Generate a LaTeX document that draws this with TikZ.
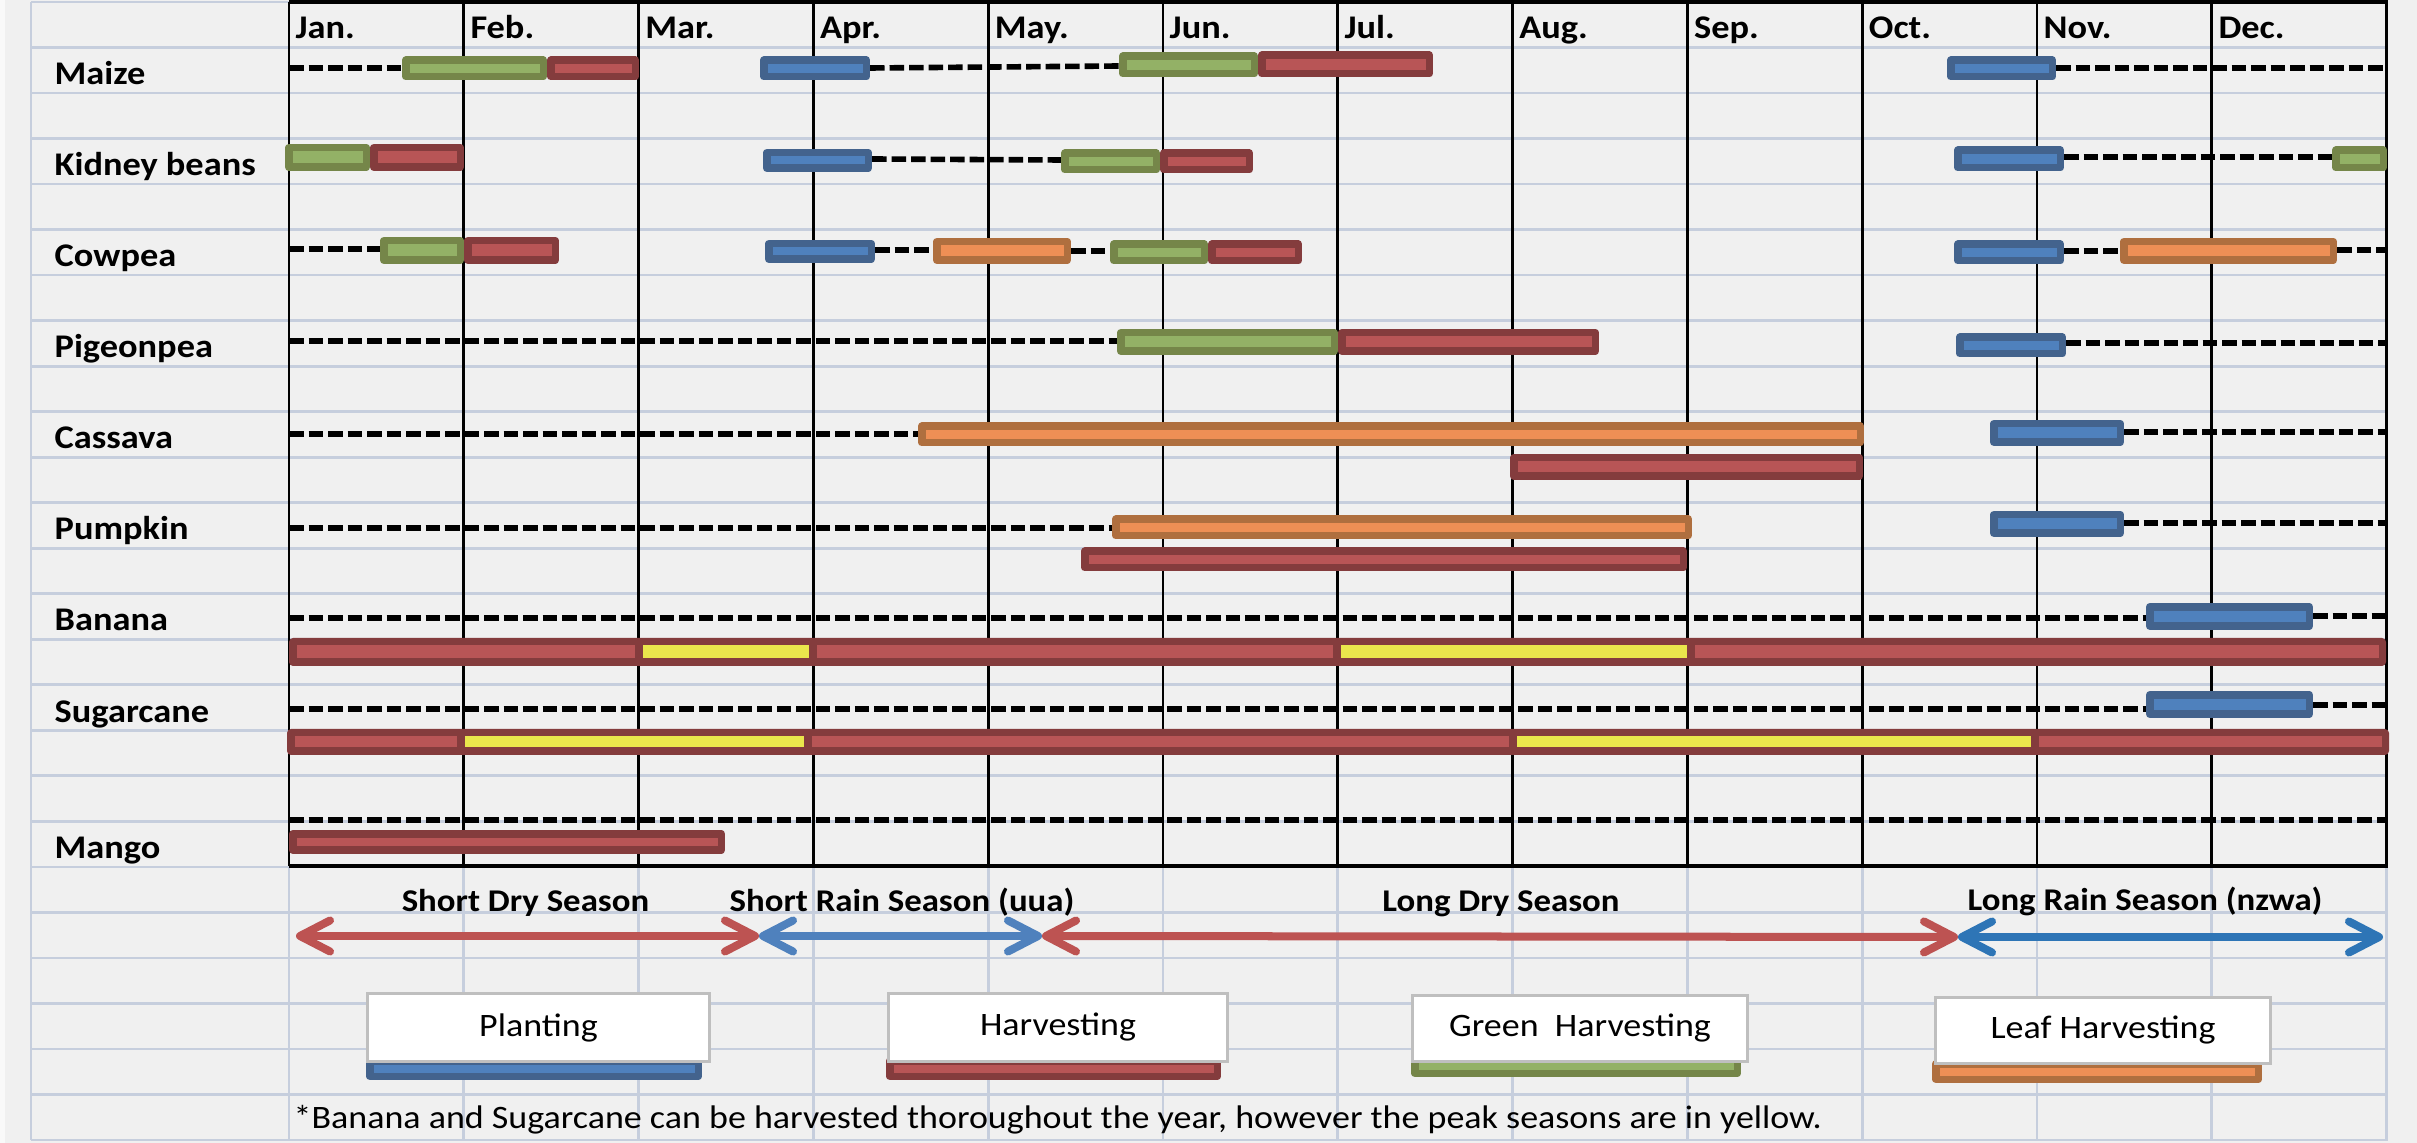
\documentclass[tikz,border=0pt]{standalone}
\usepackage{fontspec}
\setmainfont{Carlito}[FakeStretch=1.1]
\usetikzlibrary{arrows.meta}
\definecolor{bg}{HTML}{F0F0F0}
\definecolor{gridc}{HTML}{C6CEDD}
\definecolor{blueL}{HTML}{4F81BD}
\definecolor{blueD}{HTML}{43638D}
\definecolor{redL}{HTML}{B85556}
\definecolor{redD}{HTML}{843C3D}
\definecolor{greenL}{HTML}{93B166}
\definecolor{greenD}{HTML}{758649}
\definecolor{orangeL}{HTML}{EE8F55}
\definecolor{orangeD}{HTML}{AF6F3F}
\definecolor{yel}{HTML}{EAE64C}
\definecolor{arrRed}{HTML}{BD5352}
\definecolor{arrBlue}{HTML}{4F81BD}
\definecolor{arrBlueB}{HTML}{2E75B6}
\definecolor{legbord}{HTML}{BFBFBF}
\newcommand{\cbar}[5]{\draw[#1] ({#2+3.75},{#4-#5/2+3.75}) rectangle ({#3-3.75},{#4+#5/2-3.75});}
\newcommand{\labfont}{\bfseries\fontsize{9.4pt}{11pt}\selectfont}
\newcommand{\seafont}{\bfseries\fontsize{9pt}{11pt}\selectfont}
\newcommand{\legfont}{\fontsize{9.3pt}{11pt}\selectfont}
\tikzset{
  barbox/.style={line width=0.075cm, line join=round},
  blueB/.style={barbox, draw=blueD, fill=blueL},
  redB/.style={barbox, draw=redD, fill=redL},
  greenB/.style={barbox, draw=greenD, fill=greenL},
  orangeB/.style={barbox, draw=orangeD, fill=orangeL},
  dline/.style={line width=0.056cm, dash pattern=on 0.145cm off 0.05cm, black},
  gridline/.style={line width=0.027cm, gridc},
  blackline/.style={line width=0.028cm, black},
  lab/.style={font=\labfont, inner sep=0pt, anchor=base west},
  slab/.style={font=\seafont, inner sep=0pt, anchor=base},
  season/.style={line width=0.08cm, line cap=round,
    {Straight Barb[length=0.3cm,width=0.31cm,round]}-{Straight Barb[length=0.3cm,width=0.31cm,round]}},
  legbox/.style={draw=legbord, line width=0.03cm, fill=white, inner sep=0pt, font=\legfont},
}
\begin{document}
\begin{tikzpicture}[x=0.01cm, y=-0.01cm]
\useasboundingbox (0,0) rectangle (2417,1143);
\fill[bg] (0,0) rectangle (2417,1143);
\fill[white!60!bg] (0,0) rectangle (5,1143);
% light grid
\foreach \k in {0,...,25} \draw[gridline] (31,{2+45.52*\k}) -- (2388,{2+45.52*\k});
\draw[gridline] (31,2) -- (31,1140);
\foreach \i in {0,...,12} \draw[gridline] ({289+174.8*\i},866) -- ({289+174.8*\i},1140);
% black frame and month lines
\foreach \i in {0,...,12} \draw[blackline] ({289+174.8*\i},2) -- ({289+174.8*\i},866);
\draw[blackline, line width=0.032cm] (289,2) -- (2388,2);
\draw[blackline, line width=0.035cm] (289,866) -- (2388,866);
% month labels
\foreach \m [count=\i from 0] in {Jan.,Feb.,Mar.,Apr.,May.,Jun.,Jul.,Aug.,Sep.,Oct.,Nov.,Dec.}
  \node[lab] (m\i) at ({295+174.8*\i},39) {\m};
% row labels
\node[lab] (lmaize) at (54,85) {Maize};
\node[lab] (lkidney) at (54,176) {Kidney beans};
\node[lab] (lcowpea) at (54,267) {Cowpea};
\node[lab] (lpigeon) at (54,358) {Pigeonpea};
\node[lab] (lcassava) at (54,449) {Cassava};
\node[lab] (lpumpkin) at (54,540) {Pumpkin};
\node[lab] (lbanana) at (54,631) {Banana};
\node[lab] (lsugar) at (54,722) {Sugarcane};
\node[lab] (lmango) at (54,858) {Mango};
% dashed lines
\draw[dline] (289,68) -- (402,68);
\draw[dline] (870,68) -- (1119,66);
\draw[dline] (2056,68) -- (2387,68);
\draw[dline] (872,159) -- (1061,160);
\draw[dline] (2064,157) -- (2332,157);
\draw[dline] (289,249) -- (380,249);
\draw[dline] (875,250) -- (933,250);
\draw[dline] (1071,251) -- (1110,251);
\draw[dline] (2064,251) -- (2120,251);
\draw[dline] (2337,250) -- (2387,250);
\draw[dline] (289,341) -- (1117,341);
\draw[dline] (2066,343) -- (2387,343);
\draw[dline] (289,434) -- (918,434);
\draw[dline] (2124,432) -- (2387,432);
\draw[dline] (289,528) -- (1112,528);
\draw[dline] (2124,523) -- (2387,523);
\draw[dline] (289,618) -- (2146,618);
\draw[dline] (2313,616) -- (2387,616);
\draw[dline] (289,709) -- (2146,709);
\draw[dline] (2313,705) -- (2387,705);
\draw[dline] (289,820) -- (2387,820);
% Maize
\cbar{greenB}{402}{547}{68.5}{24}
\cbar{redB}{547}{639}{68.5}{24}
\cbar{blueB}{760}{870}{68.5}{24}
\cbar{greenB}{1119}{1258}{65}{25}
\cbar{redB}{1258}{1433}{64.5}{26}
\cbar{blueB}{1947}{2056}{68.5}{24}
% Kidney beans
\cbar{greenB}{285}{370}{157.5}{27}
\cbar{redB}{370}{464}{157.5}{27}
\cbar{blueB}{763}{872}{160.5}{23}
\cbar{greenB}{1061}{1160}{161.5}{24}
\cbar{redB}{1160}{1253}{161.5}{24}
\cbar{blueB}{1954}{2064}{159}{25}
\cbar{greenB}{2332}{2387}{159}{25}
% Cowpea
\cbar{greenB}{380}{464}{250.5}{27}
\cbar{redB}{464}{559}{250.5}{27}
\cbar{blueB}{765}{875}{251.5}{23}
\cbar{orangeB}{933}{1071}{251}{26}
\cbar{greenB}{1110}{1208}{252.5}{24}
\cbar{redB}{1208}{1302}{252.5}{24}
\cbar{blueB}{1954}{2064}{252.5}{24}
\cbar{orangeB}{2120}{2337}{251}{26}
% Pigeonpea
\cbar{greenB}{1117}{1338}{342}{26}
\cbar{redB}{1338}{1599}{342}{26}
\cbar{blueB}{1956}{2066}{345.5}{24}
% Cassava
\cbar{orangeB}{918}{1864}{434.5}{24}
\cbar{blueB}{1990}{2124}{433}{26}
\cbar{redB}{1510}{1863}{467}{26}
% Pumpkin
\cbar{orangeB}{1112}{1692}{527.5}{24}
\cbar{blueB}{1990}{2124}{524}{26}
\cbar{redB}{1081}{1687}{559.5}{24}
% Banana
\cbar{blueB}{2146}{2313}{616.5}{27}
\fill[redD, rounded corners=0.04cm] (289,638) rectangle (2386,666);
\fill[redL] (296.5,645.5) rectangle (635,658.5);
\fill[yel] (643,645.5) rectangle (809,658.5);
\fill[redL] (817,645.5) rectangle (1333,658.5);
\fill[yel] (1341,645.5) rectangle (1687,658.5);
\fill[redL] (1695,645.5) rectangle (2378.5,658.5);
% Sugarcane
\cbar{blueB}{2146}{2313}{704.5}{27}
\fill[redD, rounded corners=0.04cm] (287,729) rectangle (2389,755);
\fill[redL] (294.5,736.5) rectangle (457,747.5);
\fill[yel] (465,736.5) rectangle (804,747.5);
\fill[redL] (812,736.5) rectangle (1509,747.5);
\fill[yel] (1517,736.5) rectangle (2031,747.5);
\fill[redL] (2039,736.5) rectangle (2381.5,747.5);
% Mango
\cbar{redB}{289}{725}{842}{24}
% seasons
\coordinate (s0) at (296,936);
\coordinate (s1) at (759,936);
\coordinate (s2) at (1042,936);
\coordinate (s3) at (1958,937);
\coordinate (s4) at (2383,937);
\draw[season, arrRed] (s0) -- (s1);
\draw[season, arrBlue] (s1) -- (s2);
\draw[season, arrRed] (s2) -- (s3);
\draw[season, arrBlueB] (s3) -- (s4);
\node[slab] (t1) at (525.5,912) {Short Dry Season};
\node[slab] (t2) at (902,912) {Short Rain Season (uua)};
\node[slab] (t3) at (1501,911) {Long Dry Season};
\node[slab] (t4) at (2145,910) {Long Rain Season (nzwa)};
% legend
\cbar{blueB}{366}{702}{1068.5}{23}
\cbar{redB}{886}{1221}{1068.5}{23}
\cbar{greenB}{1411}{1741}{1066}{22}
\cbar{orangeB}{1932}{2262}{1071.5}{23}
\node[legbox, minimum width=3.41cm, minimum height=0.67cm] (kp) at (538.5,1027.5) {Planting};
\node[legbox, minimum width=3.38cm, minimum height=0.67cm] (kh) at (1058,1027.5) {Harvesting};
\node[legbox, minimum width=3.34cm, minimum height=0.65cm] (kg) at (1580,1028.5) {Green\hspace{0.25em} Harvesting};
\node[legbox, minimum width=3.34cm, minimum height=0.65cm] (kl) at (2103,1030.5) {Leaf Harvesting};
\node[anchor=base west, inner sep=0pt, font=\legfont] (fn) at (293,1128) {*Banana and Sugarcane can be harvested thoroughout the year, however the peak seasons are in yellow.};
\end{tikzpicture}
\end{document}
